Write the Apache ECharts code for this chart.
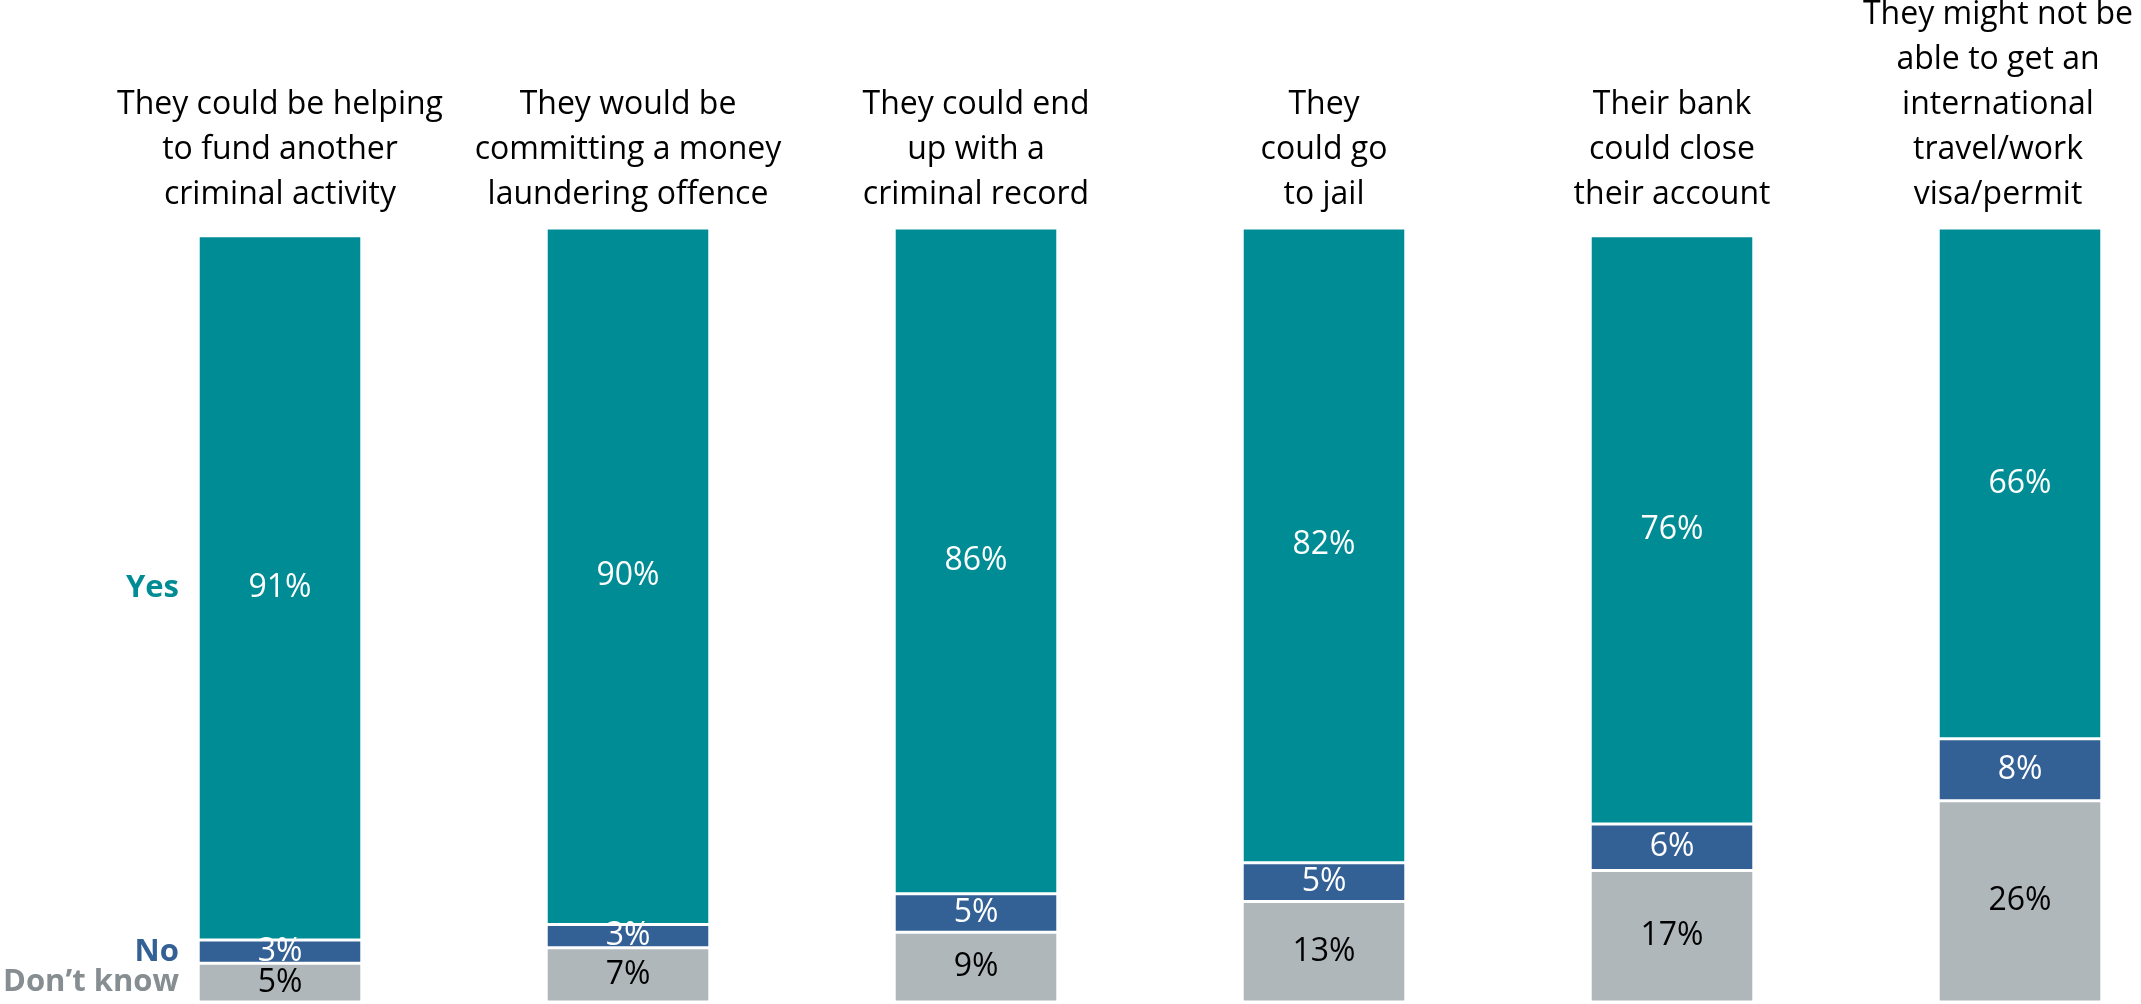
<!DOCTYPE html>
<html><head><meta charset="utf-8">
<script src="https://cdn.jsdelivr.net/npm/echarts@6/dist/echarts.min.js"></script>
<style>html,body{margin:0;padding:0;background:#fff}#c{width:2141px;height:1004px}</style>
</head><body><div id="c"></div>
<script>
const categories = [
  "They could be helping\nto fund another\ncriminal activity",
  "They would be\ncommitting a money\nlaundering offence",
  "They could end\nup with a\ncriminal record",
  "They\ncould go\nto jail",
  "Their bank\ncould close\ntheir account",
  "They might not be\nable to get an\ninternational\ntravel/work\nvisa/permit"
];
const yesValues = [91, 90, 86, 82, 76, 66];
const noValues = [3, 3, 5, 5, 6, 8];
const dkValues = [5, 7, 9, 13, 17, 26];
const seriesNames = ["Don\u2019t know", "No", "Yes"];
const colors = { yes: "#008C95", no: "#336195", dk: "#B0B7BA" };
const labelColors = { yes: "#008C95", no: "#336195", dk: "#868E92" };
const FONT = "Open Sans";

const chart = echarts.init(document.getElementById('c'));
function seg(name, data, color, textColor) {
  return {
    name, type: 'bar', stack: 's', data, barWidth: '47%',
    itemStyle: { color, borderColor: '#fff', borderWidth: 1.5 },
    label: { show: true, position: 'inside', formatter: '{c}%', color: textColor,
             fontFamily: FONT, fontSize: 32 }
  };
}
// the last, widest label sits a little left of its bar so it stays on the canvas
const catData = categories.map((c, i) => i === categories.length - 1
  ? { value: c, textStyle: { padding: [0, 44, 0, 0] } }
  : c);
chart.setOption({
  animation: false,
  grid: { left: 106, width: 2088, top: 228, bottom: 2, outerBoundsMode: 'none', containLabel: false },
  xAxis: {
    type: 'category', data: catData, position: 'top',
    axisLine: { show: false }, axisTick: { show: false },
    axisLabel: { interval: 0, fontFamily: FONT, fontSize: 32, color: '#000', lineHeight: 45, margin: 11, verticalAlign: 'bottom' }
  },
  yAxis: { type: 'value', min: 0, max: 100, show: false },
  series: [
    seg(seriesNames[0], dkValues, colors.dk, '#000'),
    seg(seriesNames[1], noValues, colors.no, '#fff'),
    seg(seriesNames[2], yesValues, colors.yes, '#fff')
  ]
});

// side legend labels, centred on the first bar's segments
const y = v => chart.convertToPixel({ yAxisIndex: 0 }, v);
const mids = [
  [seriesNames[2], dkValues[0] + noValues[0] + yesValues[0] / 2, labelColors.yes],
  [seriesNames[1], dkValues[0] + noValues[0] / 2, labelColors.no],
  [seriesNames[0], dkValues[0] / 2, labelColors.dk]
];
chart.setOption({
  graphic: mids.map(([t, v, c]) => ({
    type: 'text', x: 179, y: y(v),
    style: { text: t, fill: c, font: 'bold 31px "Open Sans"', textAlign: 'right', textVerticalAlign: 'middle' }
  }))
});
</script></body></html>
